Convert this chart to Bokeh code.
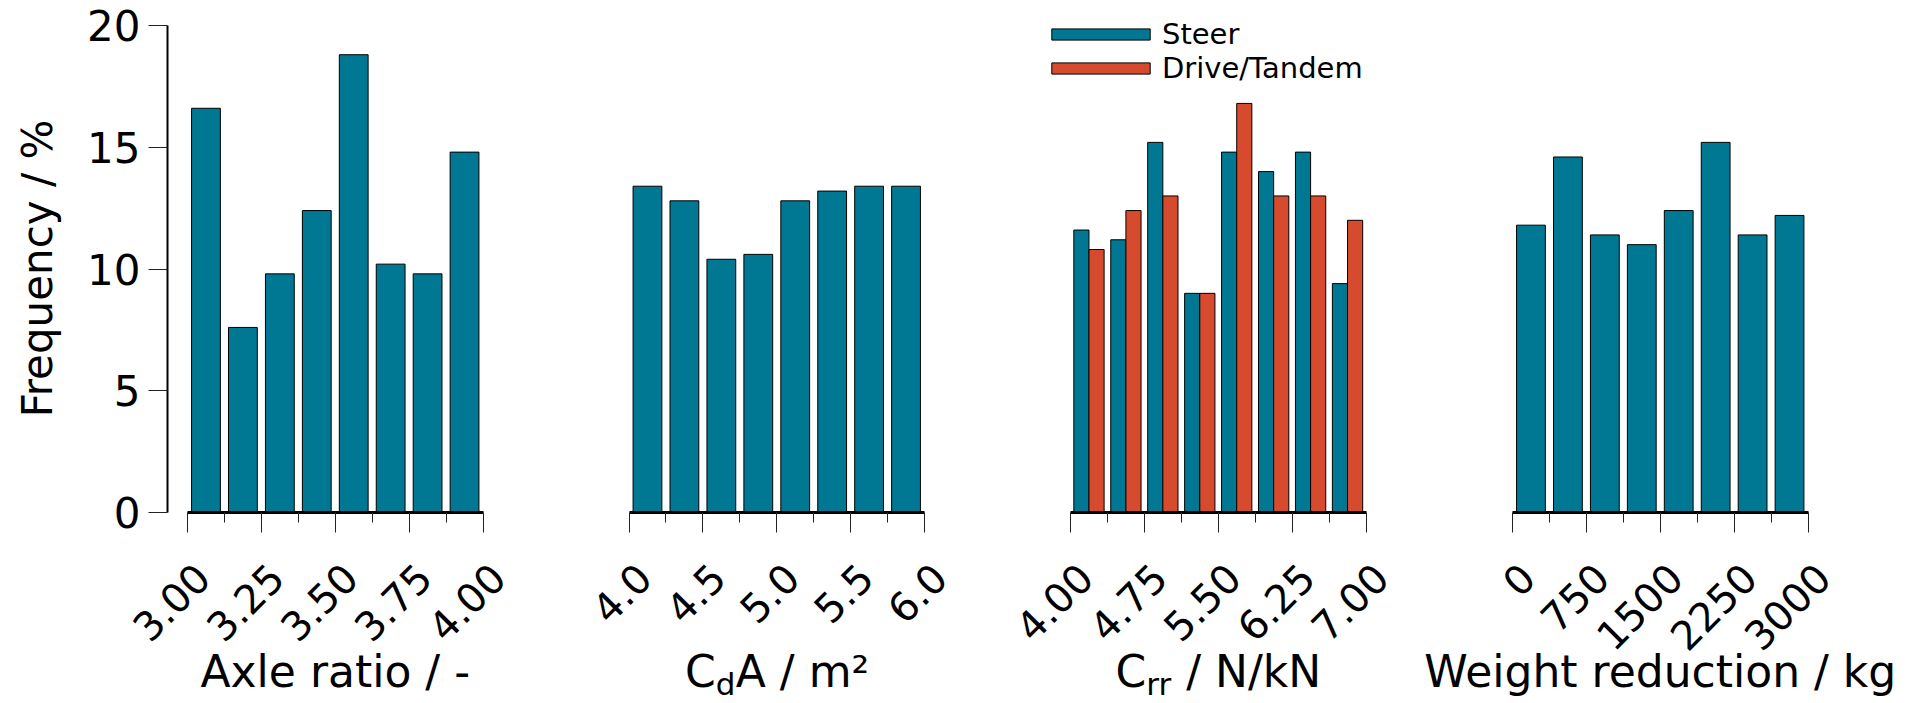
import math
from bokeh.plotting import figure
from bokeh.models import Range1d, FixedTicker, Label, Legend, LegendItem, LinearAxis
from bokeh.layouts import row
from bokeh.embed import file_html
from bokeh.resources import INLINE

# ---------------- data ----------------
freq_ticks = [0, 5, 10, 15, 20]

axle_range = (3.0, 4.0)
axle_ticks = [3.00, 3.25, 3.50, 3.75, 4.00]
axle_tick_labels = ["3.00", "3.25", "3.50", "3.75", "4.00"]
axle_freq = [16.6, 7.6, 9.8, 12.4, 18.8, 10.2, 9.8, 14.8]

cda_range = (4.0, 6.0)
cda_ticks = [4.0, 4.5, 5.0, 5.5, 6.0]
cda_tick_labels = ["4.0", "4.5", "5.0", "5.5", "6.0"]
cda_freq = [13.4, 12.8, 10.4, 10.6, 12.8, 13.2, 13.4, 13.4]

crr_range = (4.0, 7.0)
crr_ticks = [4.00, 4.75, 5.50, 6.25, 7.00]
crr_tick_labels = ["4.00", "4.75", "5.50", "6.25", "7.00"]
crr_steer = [11.6, 11.2, 15.2, 9.0, 14.8, 14.0, 14.8, 9.4]
crr_drive = [10.8, 12.4, 13.0, 9.0, 16.8, 13.0, 13.0, 12.0]

wr_range = (0, 3000)
wr_ticks = [0, 750, 1500, 2250, 3000]
wr_tick_labels = ["0", "750", "1500", "2250", "3000"]
wr_freq = [11.8, 14.6, 11.4, 11.0, 12.4, 15.2, 11.4, 12.2]

series_names = ["Steer", "Drive/Tandem"]

# ---------------- style / layout ----------------
FONT = "DejaVu Sans"
TEAL = "#007893"
RED = "#d64b2d"
H = 703
Y0_PX = 512          # canvas row of y = 0
Y20_PX = 25          # canvas row of y = 20
PPU = (Y0_PX - Y20_PX) / 20.0
AXIS_PX = 295.5
XTICK_FS = "40px"
YTICK_FS = "42px"
YTITLE_FS = "42px"
TITLE_FS = "44px"
SUB_FS = "31px"
LABEL_SHIFT_PX = 15
LABEL_STANDOFF = 58
TITLE_Y = -(671 - Y0_PX) / PPU
SUB_DY = -12


def make_panel(rng, ticks, labels, fig_w, axis_px0, yaxis_px=None):
    lo, hi = rng
    ppd = AXIS_PX / (hi - lo)
    start = lo - axis_px0 / ppd
    end = start + fig_w / ppd
    show_y = yaxis_px is not None
    p = figure(width=fig_w, height=H,
               x_range=Range1d(start, end),
               y_range=Range1d(-(H - Y0_PX) / PPU, 20 + Y20_PX / PPU),
               output_backend="svg", toolbar_location=None,
               min_border_left=0, min_border_right=0,
               min_border_top=0, min_border_bottom=0,
               y_axis_location="left" if show_y else None)
    p.outline_line_color = None
    p.xgrid.visible = False
    p.ygrid.visible = False
    p.background_fill_color = "white"
    p.border_fill_color = "white"

    minors = [(a + b) / 2 for a, b in zip(ticks[:-1], ticks[1:])]
    ax = p.xaxis[0]
    ax.fixed_location = 0
    ax.ticker = FixedTicker(ticks=ticks, minor_ticks=minors)
    ax.bounds = (lo, hi)
    ax.major_label_overrides = {t: "" for t in ticks}
    ax.major_label_standoff = 0
    ax.axis_line_width = 3
    ax.axis_line_color = "black"
    ax.major_tick_line_color = "#222222"
    ax.minor_tick_line_color = "#222222"
    ax.major_tick_out = 20
    ax.major_tick_in = 0
    ax.minor_tick_out = 10
    ax.minor_tick_in = 0

    # tick-label axis (same ticks, labels drawn a few pixels to the right)
    d = LABEL_SHIFT_PX / ppd
    p.extra_x_ranges = {"lbl": Range1d(start - d, end - d)}
    lab = LinearAxis(x_range_name="lbl", fixed_location=0,
                     ticker=FixedTicker(ticks=ticks, minor_ticks=[]))
    lab.major_label_overrides = {t: l for t, l in zip(ticks, labels)}
    lab.axis_line_color = None
    lab.major_tick_line_color = None
    lab.minor_tick_line_color = None
    lab.major_tick_out = 0
    lab.major_tick_in = 0
    lab.minor_tick_out = 0
    lab.minor_tick_in = 0
    lab.major_label_orientation = math.pi / 4
    lab.major_label_text_font = FONT
    lab.major_label_text_font_size = XTICK_FS
    lab.major_label_text_color = "black"
    lab.major_label_standoff = LABEL_STANDOFF
    p.add_layout(lab, "below")

    if show_y:
        ay = p.yaxis[0]
        ay.fixed_location = start + yaxis_px / ppd
        ay.ticker = FixedTicker(ticks=freq_ticks, minor_ticks=[])
        ay.bounds = (0, 20)
        ay.axis_line_width = 2
        ay.axis_line_color = "black"
        ay.major_tick_line_color = "#222222"
        ay.major_tick_out = 19
        ay.major_tick_in = 0
        ay.minor_tick_out = 0
        ay.minor_tick_in = 0
        ay.major_label_text_font = FONT
        ay.major_label_text_font_size = YTICK_FS
        ay.major_label_text_color = "black"
        ay.major_label_standoff = 8
        p.add_layout(Label(x=start + 37 / ppd, y=(Y0_PX - 268) / PPU,
                           angle=math.pi / 2, text="Frequency / %",
                           text_align="center", text_baseline="middle",
                           text_font=FONT, text_font_size=YTITLE_FS,
                           text_color="black"))
    return p


def centers(rng, n):
    lo, hi = rng
    w = (hi - lo) / n
    return [lo + (i + 0.5) * w for i in range(n)], w


def title(p, x, text, size=TITLE_FS, align="center", dx=0, dy=0):
    p.add_layout(Label(x=x, y=TITLE_Y, x_offset=dx, y_offset=dy, text=text,
                       text_align=align, text_baseline="alphabetic",
                       text_font=FONT, text_font_size=size, text_color="black"))


# panel 1
p1 = make_panel(axle_range, axle_ticks, axle_tick_labels, 546, 187, yaxis_px=167)
c, w = centers(axle_range, len(axle_freq))
p1.vbar(x=c, top=axle_freq, width=0.78 * w, bottom=0, fill_color=TEAL,
        line_color="black", line_width=1)
title(p1, sum(axle_range) / 2, "Axle ratio / -")

# panel 2
p2 = make_panel(cda_range, cda_ticks, cda_tick_labels, 442, 82.5)
c, w = centers(cda_range, len(cda_freq))
p2.vbar(x=c, top=cda_freq, width=0.78 * w, bottom=0, fill_color=TEAL,
        line_color="black", line_width=1)
xm = sum(cda_range) / 2
title(p2, xm, "C", align="right", dx=-61)
title(p2, xm, "d", size=SUB_FS, align="left", dx=-61, dy=SUB_DY)
title(p2, xm, "A / m\u00b2", align="left", dx=-61 + 20)

# panel 3
p3 = make_panel(crr_range, crr_ticks, crr_tick_labels, 412, 82)
c, w = centers(crr_range, len(crr_steer))
r1 = p3.vbar(x=[v - 0.205 * w for v in c], top=crr_steer, width=0.41 * w,
             bottom=0, fill_color=TEAL, line_color="black", line_width=1)
r2 = p3.vbar(x=[v + 0.205 * w for v in c], top=crr_drive, width=0.41 * w,
             bottom=0, fill_color=RED, line_color="black", line_width=1)
xm = sum(crr_range) / 2
title(p3, xm, "C", align="right", dx=-72)
title(p3, xm, "rr", size=SUB_FS, align="left", dx=-72, dy=SUB_DY)
title(p3, xm, "/ N/kN", align="left", dx=-72 + 40)
legend = Legend(items=[LegendItem(label=series_names[0], renderers=[r1]),
                       LegendItem(label=series_names[1], renderers=[r2])],
                location=(51, 618), orientation="vertical",
                border_line_color=None, background_fill_alpha=0,
                padding=0, margin=0, glyph_width=123, glyph_height=14,
                label_standoff=0, spacing=-7,
                label_text_font=FONT, label_text_font_size="29px",
                label_text_color="black")
p3.add_layout(legend, "center")

# panel 4
p4 = make_panel(wr_range, wr_ticks, wr_tick_labels, 518, 112)
c, w = centers(wr_range, len(wr_freq))
p4.vbar(x=c, top=wr_freq, width=0.78 * w, bottom=0, fill_color=TEAL,
        line_color="black", line_width=1)
title(p4, sum(wr_range) / 2, "Weight reduction / kg")

layout = row(p1, p2, p3, p4, spacing=0)
open("out.html", "w").write(file_html(layout, INLINE))
